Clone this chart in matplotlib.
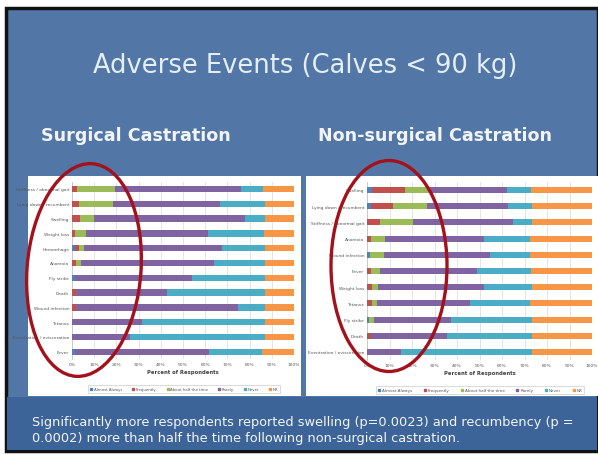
import numpy as np
import matplotlib
matplotlib.use("Agg")
import matplotlib.pyplot as plt
from matplotlib.patches import Rectangle, Ellipse
from matplotlib.lines import Line2D


# ----------------------------------- DATA -------------------------------------

responses = ["Almost Always", "Frequently", "About half the time", "Rarely", "Never", "NR"]
response_colors = ["#4F81BD", "#C0504D", "#9BBB59", "#8064A2", "#4BACC6", "#F79646"]

surgical_events = ["Stiffness / abnormal gait", "Lying down / recumbent", "Swelling",
                   "Weight loss", "Hemorrhage", "Anorexia", "Fly strike", "Death",
                   "Wound infection", "Tetanus", "Eventration / evisceration", "Fever"]
# percent of respondents, columns follow the order of `responses`
surgical_pct = [
    [0.0, 2.2, 17.2, 56.9, 9.7, 14.0],
    [0.0, 3.0, 15.4, 48.2, 20.5, 12.9],
    [0.0, 3.4, 6.3, 68.4, 8.7, 13.2],
    [0.0, 1.5, 4.8, 55.1, 24.9, 13.7],
    [1.2, 1.8, 2.2, 62.4, 19.2, 13.2],
    [0.0, 1.8, 2.4, 59.7, 22.9, 13.2],
    [1.5, 0.0, 0.0, 52.4, 32.9, 13.2],
    [0.0, 1.8, 0.0, 41.2, 43.8, 13.2],
    [0.0, 1.8, 0.0, 72.8, 12.2, 13.2],
    [0.0, 0.0, 0.0, 31.7, 55.1, 13.2],
    [0.0, 0.0, 0.0, 26.2, 60.9, 12.9],
    [1.2, 0.0, 0.0, 60.5, 23.9, 14.4],
]

nonsurgical_events = ["Swelling", "Lying down / recumbent", "Stiffness / abnormal gait",
                      "Anorexia", "Wound infection", "Fever", "Weight loss", "Tetanus",
                      "Fly strike", "Death", "Eventration / evisceration"]
nonsurgical_pct = [
    [2.2, 14.8, 11.1, 34.3, 10.5, 27.1],
    [1.8, 9.8, 15.1, 35.8, 10.9, 26.6],
    [0.0, 5.9, 14.5, 44.7, 8.1, 26.8],
    [0.0, 1.9, 6.2, 43.9, 20.5, 27.5],
    [1.5, 0.0, 5.9, 47.1, 18.0, 27.5],
    [0.0, 1.8, 4.1, 42.9, 24.1, 27.1],
    [0.0, 2.2, 2.7, 46.9, 21.6, 26.6],
    [0.0, 2.2, 2.2, 41.4, 26.7, 27.5],
    [0.7, 0.0, 2.2, 34.3, 36.0, 26.8],
    [0.0, 1.8, 0.0, 33.7, 37.7, 26.8],
    [0.0, 0.0, 0.0, 15.1, 58.1, 26.8],
]

tick_values = np.arange(0, 101, 10)

title = "Adverse Events (Calves < 90 kg)"
panel_titles = ["Surgical Castration", "Non-surgical Castration"]
caption = ("Significantly more respondents reported swelling (p=0.0023) and recumbency (p =\n"
           "0.0002) more than half the time following non-surgical castration.")


# --------------------------------- HELPERS ------------------------------------

W, H = 598, 456


def fx(x):
    return x / W


def fy(y):
    return 1 - y / H


def box(x0, y0, x1, y1):
    # left, bottom, width, height in figure fractions from pixel corners
    return [fx(x0), fy(y1), (x1 - x0) / W, (y1 - y0) / H]


def stacked_chart(rect, events, pct, bar_height, legend_center, legend_fs, legend_gap):
    ax = fig.add_axes(rect)
    ax.set_facecolor("white")
    data = np.array(pct)
    rows = np.arange(len(events))
    left = np.zeros(len(events))
    for j, color in enumerate(response_colors):
        ax.barh(rows, data[:, j], left=left, height=bar_height, color=color,
                edgecolor="none", zorder=3)
        left += data[:, j]
    ax.set_xlim(0, 100)
    ax.set_ylim(len(events) - 0.5, -0.5)
    ax.set_yticks(rows)
    ax.set_yticklabels(events, fontsize=3.2, color="#555555")
    ax.set_xticks(tick_values)
    ax.set_xticklabels([f"{v}%" for v in tick_values], fontsize=3.2, color="#555555")
    ax.tick_params(length=0, pad=2)
    ax.grid(axis="x", color="#d9d9d9", linewidth=0.5, zorder=0)
    for side in ["top", "right", "bottom"]:
        ax.spines[side].set_visible(False)
    ax.spines["left"].set_color("#bfbfbf")
    ax.spines["left"].set_linewidth(0.5)
    ax.set_xlabel("Percent of Respondents", fontsize=3.8, fontweight="bold",
                  color="#404040", labelpad=2.5)
    handles = [Line2D([], [], marker="s", linestyle="none", markersize=2,
                      markerfacecolor=c, markeredgecolor=c) for c in response_colors]
    leg = ax.legend(handles, responses, ncol=6, loc="center",
                    bbox_to_anchor=legend_center, bbox_transform=fig.transFigure,
                    fontsize=legend_fs, frameon=True, fancybox=False, handlelength=0.8,
                    handletextpad=0.3, columnspacing=legend_gap, borderpad=0.5)
    leg.get_frame().set_edgecolor("#bfbfbf")
    leg.get_frame().set_linewidth(0.5)
    for t in leg.get_texts():
        t.set_color("#555555")
    return ax


# ---------------------------------- FIGURE ------------------------------------

fig = plt.figure(figsize=(W / 100, H / 100), dpi=100)
fig.patch.set_facecolor("white")

# slide background, caption band and chart panels
fig.add_artist(Rectangle((fx(6), fy(452)), (598 - 6) / W, (452 - 9) / H,
                         transform=fig.transFigure, facecolor="#5277a6",
                         edgecolor="#111111", linewidth=2.5, zorder=-3))
fig.add_artist(Rectangle((fx(7), fy(451)), (597 - 7) / W, (451 - 398) / H,
                         transform=fig.transFigure, facecolor="#3c6498",
                         edgecolor="none", zorder=-2))
for x0, x1 in [(28, 301), (306, 598)]:
    fig.add_artist(Rectangle((fx(x0), fy(397)), (x1 - x0) / W, (397 - 177) / H,
                             transform=fig.transFigure, facecolor="white",
                             edgecolor="none", zorder=-1))

fig.text(fx(305), fy(66), title, ha="center", va="center", fontsize=18.5,
         color="#e4eef6")
fig.text(fx(41), fy(136), panel_titles[0], ha="left", va="center", fontsize=12.6,
         fontweight="bold", color="#f2f4f7")
fig.text(fx(318), fy(136), panel_titles[1], ha="left", va="center", fontsize=12.6,
         fontweight="bold", color="#f2f4f7")
fig.text(fx(32), fy(431), caption, ha="left", va="center", fontsize=9.25,
         color="#f4f6f9", linespacing=1.3)

stacked_chart(box(72, 182.6, 294, 360.2), surgical_events, surgical_pct, 0.42,
              (fx(184), fy(390)), 2.8, 2.4)
stacked_chart(box(367, 182.9, 592, 361.1), nonsurgical_events, nonsurgical_pct, 0.38,
              (fx(480), fy(391)), 3.0, 2.6)

# hand-drawn red ovals around the "more than half the time" columns
for cx, cy, w, h, ang in [(84, 271, 114, 213, -3), (389, 267, 116, 211, 0)]:
    fig.add_artist(Ellipse((fx(cx), fy(cy)), w / W, h / H, angle=ang,
                           transform=fig.transFigure, facecolor="none",
                           edgecolor="#a3121c", linewidth=2.4, zorder=10))

fig.savefig("out.png", dpi=100)
